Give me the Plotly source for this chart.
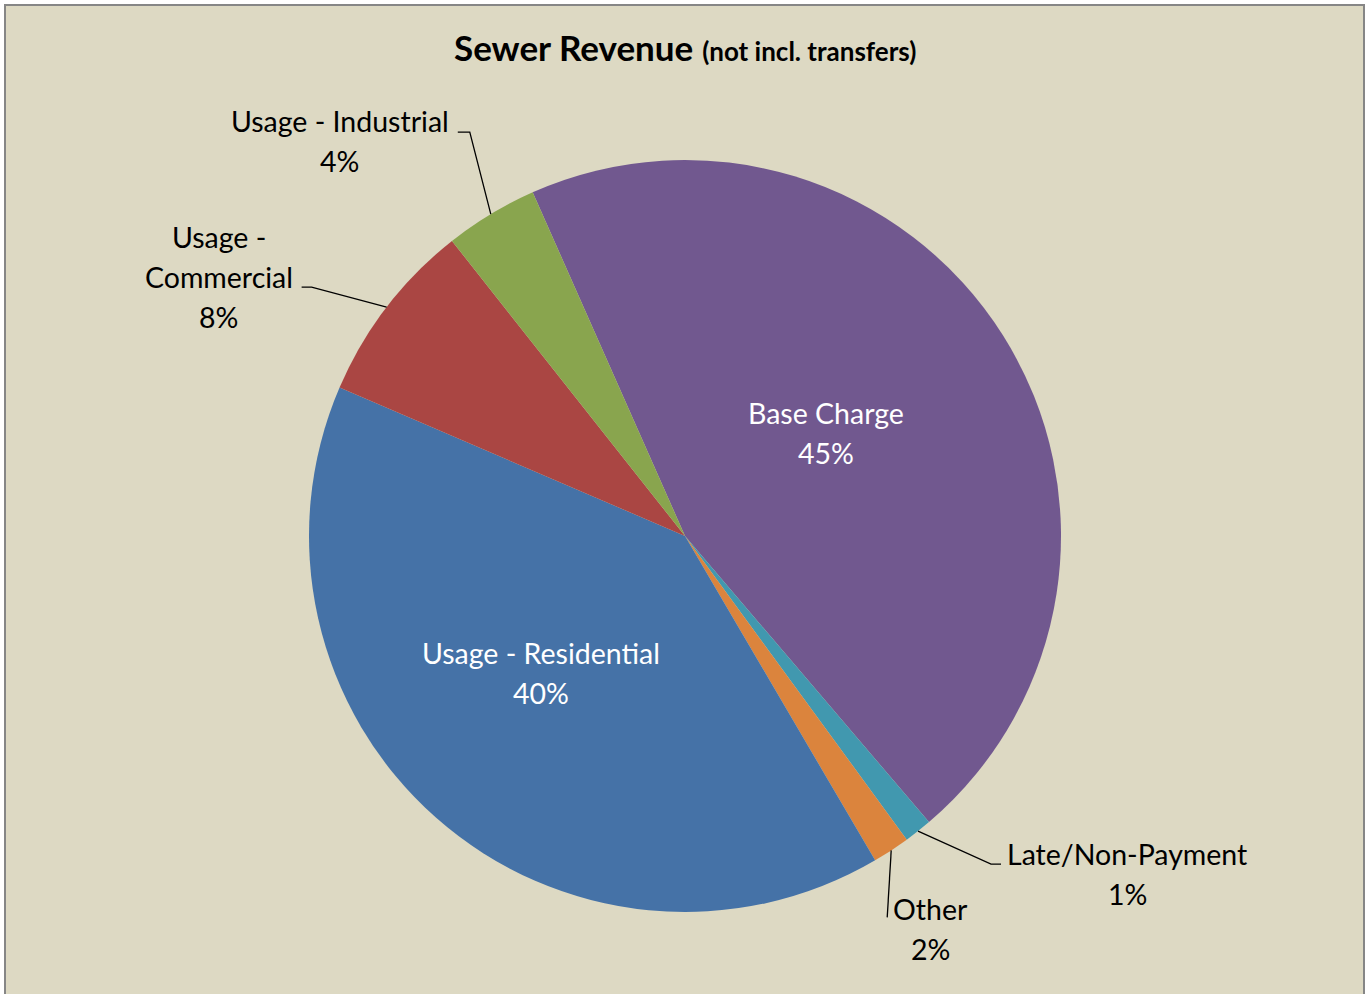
import math
import plotly.graph_objects as go

# ---------------- data ----------------
labels = ["Base Charge", "Late/Non-Payment", "Other",
          "Usage - Residential", "Usage - Commercial", "Usage - Industrial"]
values = [45.4, 1.2, 1.6, 39.9, 7.9, 4.0]
label_text = ["Base Charge", "Late/Non-Payment", "Other",
              "Usage - Residential", "Usage -<br>Commercial", "Usage - Industrial"]
colors = ["#71588F", "#4198AF", "#DB843D", "#4572A7", "#AA4643", "#89A54E"]

title_main = "Sewer Revenue"
title_sub = "(not incl. transfers)"

# ---------------- layout / style ----------------
W, H = 1366, 994
CX, CY, R = 685, 536, 376          # pie centre and radius in px
ROTATION = -23.9                   # start angle of first slice (deg, clockwise from 12 o'clock)
FONT = "Lato"
LABEL_SIZE = 28.5
LINE_H = 40

inside_style = {
    "Base Charge": (0.466, -4.0),
    "Usage - Residential": (0.53, 5.0),
}
outside_style = {
    "Usage - Industrial": ((-151, -73), [(-21, -82), (-33, -82)]),
    "Usage - Commercial": ((-168, -30), [(-75, -20), (-85, -20)]),
    "Late/Non-Payment": ((209, 43), [(73, 33), (83, 33)]),
    "Other": ((39, 79), [(-4, 67)]),
}


def px(x):
    return x / W


def py(y):
    return 1 - y / H


total = sum(values)
pcts = [round(v / total * 100) for v in values]

fig = go.Figure()
fig.add_trace(go.Pie(
    labels=labels, values=values, sort=False, direction="clockwise",
    rotation=ROTATION, marker=dict(colors=colors, line=dict(width=0)),
    textinfo="none", hoverinfo="label+percent", showlegend=False,
    domain=dict(x=[px(CX - R), px(CX + R)], y=[py(CY + R), py(CY - R)]),
))

shapes = [dict(type="rect", xref="paper", yref="paper",
               x0=px(5), x1=px(1364), y0=py(1010), y1=py(5),
               fillcolor="#DDD9C3", line=dict(color="#868686", width=2), layer="below")]
annotations = []


def add_block(x, y, lines, color):
    n = len(lines)
    for i, ln in enumerate(lines):
        yy = y + (i - (n - 1) / 2) * LINE_H
        annotations.append(dict(x=px(x), y=py(yy), xref="paper", yref="paper",
                                text=ln, showarrow=False,
                                xanchor="center", yanchor="middle", align="center",
                                font=dict(family=FONT, size=LABEL_SIZE, color=color)))


cum = 0.0
for lab, txt, v, p in zip(labels, label_text, values, pcts):
    span = v / total * 360
    mid = ROTATION + cum + span / 2
    cum += span
    t = math.radians(mid)
    lines = txt.split("<br>") + [f"{p}%"]
    if lab in inside_style:
        rf, dth = inside_style[lab]
        tt = math.radians(mid + dth)
        x = CX + rf * R * math.sin(tt)
        y = CY - rf * R * math.cos(tt)
        add_block(x, y, lines, "white")
    else:
        ax = CX + R * math.sin(t)
        ay = CY - R * math.cos(t)
        (tx, ty), pts = outside_style[lab]
        path = f"M {px(ax)} {py(ay)}"
        for (dx, dy) in pts:
            path += f" L {px(ax + dx)} {py(ay + dy)}"
        shapes.append(dict(type="path", xref="paper", yref="paper", path=path,
                           line=dict(color="black", width=1.3)))
        add_block(ax + tx, ay + ty, lines, "black")

annotations.append(dict(
    x=px(685), y=py(47), xref="paper", yref="paper", showarrow=False,
    xanchor="center", yanchor="middle",
    text=f"<b>{title_main}</b> <b><span style='font-size:26px'>{title_sub}</span></b>",
    font=dict(family=FONT, size=35, color="black")))

fig.update_layout(
    width=W, height=H, margin=dict(l=0, r=0, t=0, b=0),
    paper_bgcolor="white", plot_bgcolor="rgba(0,0,0,0)",
    shapes=shapes, annotations=annotations,
)

fig.write_html("out.html")
